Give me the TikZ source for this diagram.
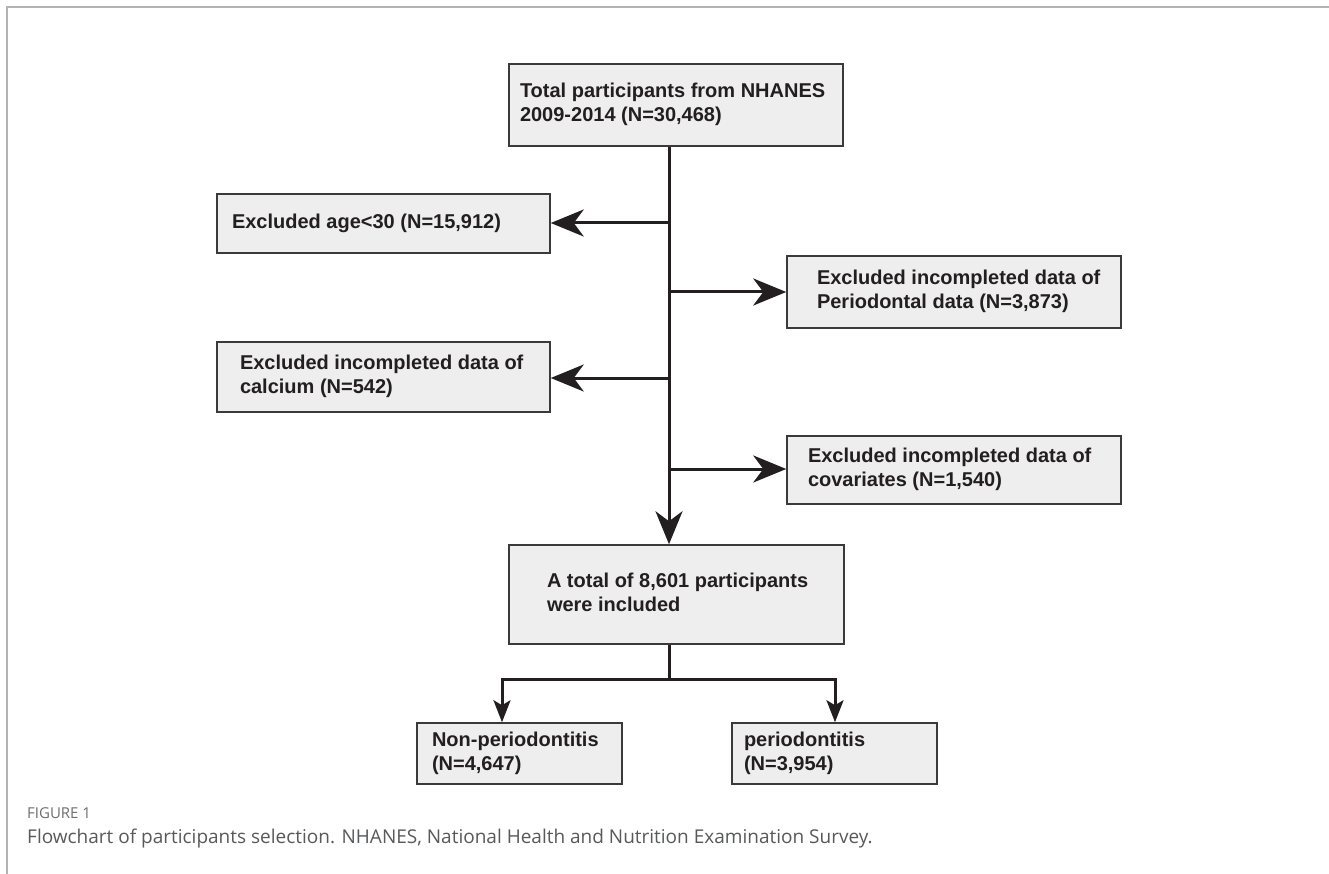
\documentclass[tikz,border=0pt]{standalone}
\usepackage{fontspec}
\setmainfont{Liberation Sans}
\newfontfamily\capfont{Open Sans}
\usetikzlibrary{arrows.meta}
\definecolor{ink}{HTML}{231F20}
\definecolor{boxfill}{HTML}{EEEEEE}
\definecolor{boxline}{HTML}{3A3A3A}
\definecolor{framecol}{HTML}{B3B3B3}
\definecolor{captxt}{HTML}{58595B}
\definecolor{caplab}{HTML}{6D6E71}
\newcommand{\bxt}[4]{\makebox[#1pt][l]{\hspace*{#2pt}\raisebox{#3pt}{\begin{tabular}{@{}l@{}}#4\end{tabular}}}}
\begin{document}
\begin{tikzpicture}[x=1pt,y=-1pt,
  fbox/.style={draw=boxline, fill=boxfill, line width=1.5pt, inner sep=0pt, rectangle,
    font=\fontsize{20}{24}\selectfont\bfseries, text=ink},
  ln/.style={draw=ink, line width=3pt},
  bigarr/.style={ln, -{Stealth[length=33pt,width=27pt,inset=10pt]}},
  smallarr/.style={ln, line join=miter, -{Stealth[length=22pt,width=17pt,inset=5pt]}}]
\useasboundingbox (0,0) rectangle (1329,874);
\fill[white] (0,0) rectangle (1329,874);
\draw[framecol, line width=2pt] (7,874) -- (7,7) -- (1329,7);

\node[fbox, minimum height=82pt] (top) at (676,105)
  {\bxt{334}{11}{8}{Total participants from NHANES\\2009-2014 (N=30,468)}};
\node[fbox, minimum height=59pt] (age) at (383.5,223.5)
  {\bxt{333}{15}{0}{Excluded age<30 (N=15,912)}};
\node[fbox, minimum height=72pt] (peri) at (954,292)
  {\bxt{334}{30}{0}{Excluded incompleted data of\\Periodontal data (N=3,873)}};
\node[fbox, minimum height=70pt] (calc) at (383.5,377)
  {\bxt{333}{23}{-4}{Excluded incompleted data of\\calcium (N=542)}};
\node[fbox, minimum height=68pt] (cov) at (954,470)
  {\bxt{334}{21}{-2}{Excluded incompleted data of\\covariates (N=1,540)}};
\node[fbox, minimum height=99pt] (mid) at (676.5,594.5)
  {\bxt{335}{38}{-4}{A total of 8,601 participants\\were included}};
\node[fbox, minimum height=61pt] (non) at (519.5,753.5)
  {\bxt{205}{15}{-2}{Non-periodontitis\\(N=4,647)}};
\node[fbox, minimum height=61pt] (per) at (834.5,753.5)
  {\bxt{205}{12}{-2}{periodontitis\\(N=3,954)}};

\coordinate (tr) at (669,0);
\coordinate (b1) at (669,223);
\coordinate (b2) at (669,292);
\coordinate (b3) at (669,378);
\coordinate (b4) at (669,469);
\coordinate (split) at (669,679);
\coordinate (nl) at (502,679);
\coordinate (nr) at (835,679);

\draw[bigarr] (top.south -| tr) -- (mid.north -| tr);
\draw[bigarr] (b1) -- (b1 -| age.east);
\draw[bigarr] (b2) -- (b2 -| peri.west);
\draw[bigarr] (b3) -- (b3 -| calc.east);
\draw[bigarr] (b4) -- (b4 -| cov.west);
\draw[ln] (mid.south -| split) -- (split);
\draw[smallarr] (split) -| (nl |- non.north);
\draw[smallarr] (split) -| (nr |- per.north);

\node[anchor=base west, inner sep=0pt, font=\capfont\fontsize{15}{17}\selectfont, text=caplab] (figlab) at (27,818) {FIGURE 1};
\node[anchor=base west, inner sep=0pt, font=\capfont\fontsize{19}{22}\selectfont, text=captxt] (cap) at (27,843)
  {Flowchart of participants selection. NHANES, National Health and Nutrition Examination Survey.};
\end{tikzpicture}
\end{document}
